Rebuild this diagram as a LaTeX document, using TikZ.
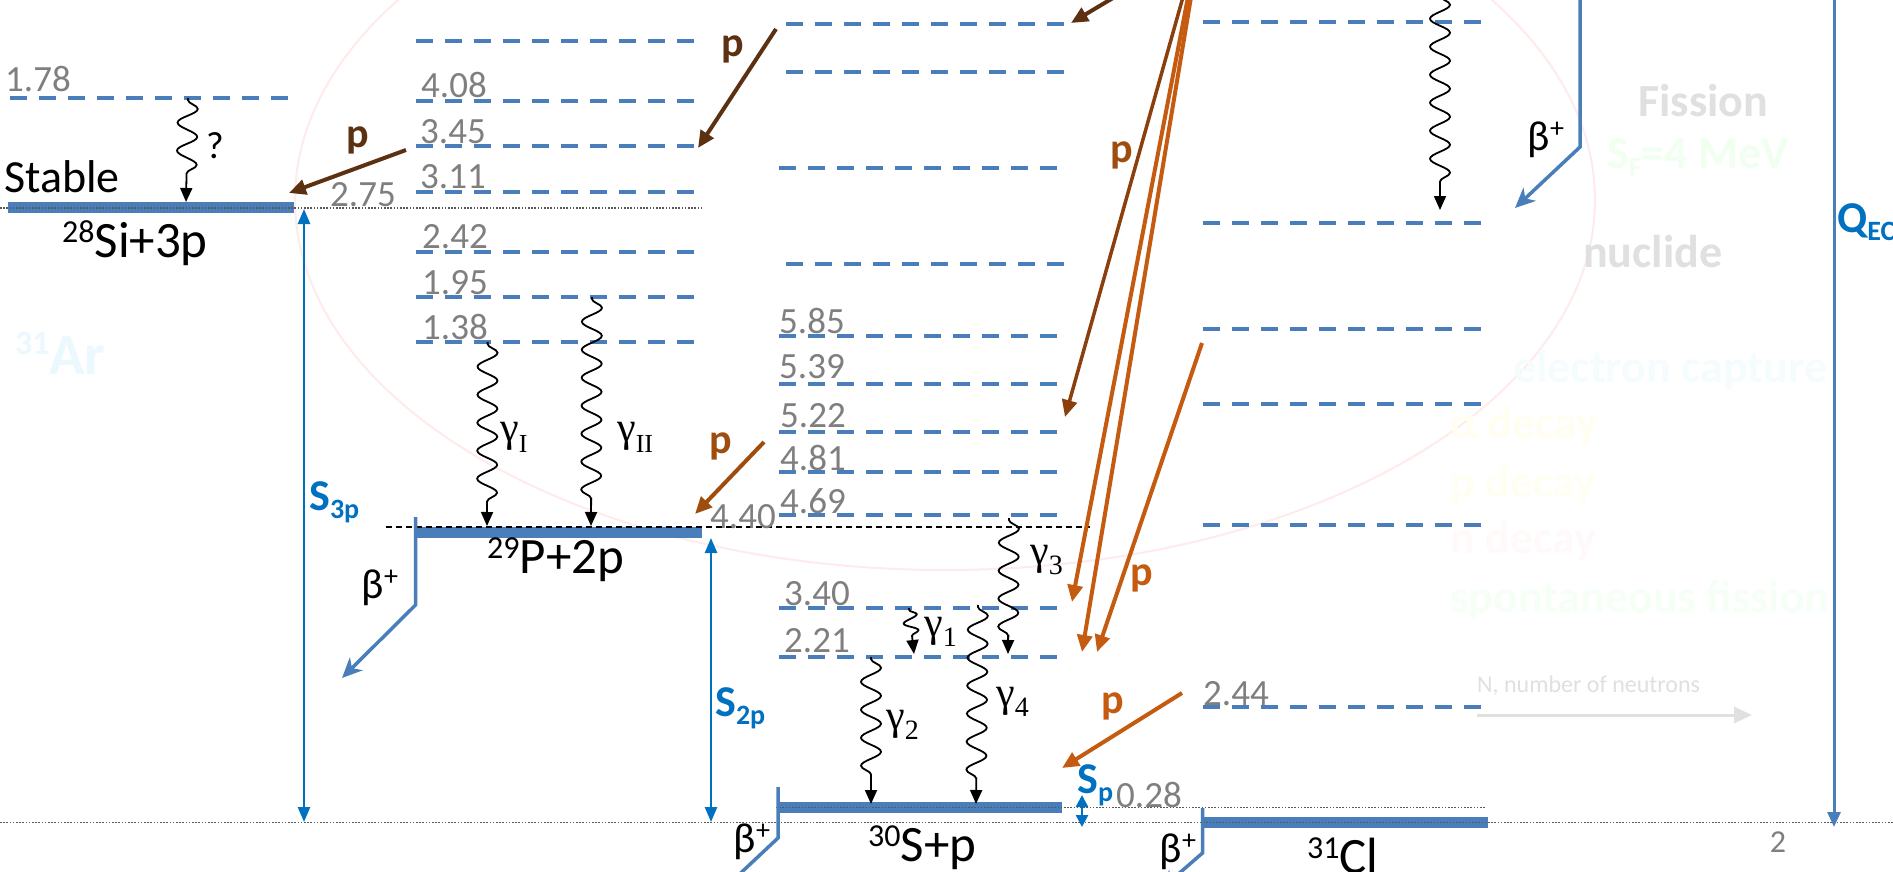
\documentclass[tikz,border=0pt]{standalone}
\usepackage{fontspec}
\setmainfont{Carlito}
\newfontfamily\tmsfont{Liberation Serif}
\usetikzlibrary{arrows.meta,decorations.pathmorphing}
\newcommand\fsz[1]{\fontsize{#1}{#1}\selectfont}
\definecolor{lvl}{HTML}{4A7EBB}
\definecolor{sblue}{HTML}{0070C0}
\definecolor{numgray}{HTML}{7F7F7F}
\definecolor{pdark}{HTML}{5C3111}
\definecolor{pmid}{HTML}{9E4D0E}
\definecolor{pbrown}{HTML}{8A3F0D}
\definecolor{porange}{HTML}{C55A11}
\definecolor{faintgray}{HTML}{E0E0E0}
\tikzset{
  lev/.style={draw=lvl, line width=4pt, dash pattern=on 17pt off 12pt},
  gsbar/.style={draw=lvl, line width=11pt},
  dotl/.style={draw=black!65, line width=1.1pt, dash pattern=on 1.6pt off 1.6pt},
  refl/.style={draw=black, line width=1.5pt, dash pattern=on 6pt off 4pt},
  num/.style={text=numgray, font=\fsz{37}, inner sep=0pt, anchor=base west},
  nuc/.style={font=\fsz{51}, inner sep=0pt, anchor=base west},
  gam/.style={draw=black, line width=1.8pt, decorate,
     decoration={snake, amplitude=10pt, segment length=28pt, pre length=2pt, post length=16pt},
     -{Triangle[length=14pt,width=12pt]}},
  glab/.style={font=\tmsfont\fsz{42}, inner sep=0pt, anchor=base west},
  parr/.style={line width=4pt, -{Triangle[length=17pt,width=15pt]}},
  plab/.style={font=\bfseries\fsz{42}, inner sep=0pt, anchor=base},
  betaarr/.style={draw=lvl, line width=3.5pt, -{Stealth[length=20pt,width=18pt,inset=6pt]}},
  blab/.style={font=\fsz{42}, inner sep=0pt},
  sarr/.style={draw=sblue, line width=2.5pt, {Triangle[length=15pt,width=12pt]}-{Triangle[length=15pt,width=12pt]}},
  slab/.style={text=sblue, font=\bfseries\fsz{44}, inner sep=0pt, anchor=base west},
  faint/.style={inner sep=0pt, anchor=base west, font=\bfseries\fsz{46}},
}
\begin{document}
\begin{tikzpicture}[x=1pt,y=-1pt]
\useasboundingbox (0,0) rectangle (1893,872);
\fill[white] (0,0) rectangle (1893,872);
\clip (0,0) rectangle (1893,872);

% ---------- faint background ----------
\draw[draw=red!8, line width=2pt] (945,200) ellipse [x radius=650, y radius=370];
\node[faint, text=cyan!8, font=\bfseries\fsz{58}] (ar31) at (15,374) {\raisebox{20pt}{\fsz{34}31}Ar};
\node[faint, text=faintgray] (fis) at (1638,117) {Fission};
\node[faint, text=green!6] (sfv) at (1607,168) {S\raisebox{-8pt}{\fsz{28}F}=4 MeV};
\node[faint, text=faintgray] (nucl) at (1583,267) {nuclide};
\node[faint, text=cyan!4] (ecap) at (1513,382) {electron capture};
\node[faint, text=yellow!6] (adec) at (1450,438) {α decay};
\node[faint, text=yellow!5] (pdec) at (1450,497) {p decay};
\node[faint, text=pink!9] (ndec) at (1450,553) {n decay};
\node[faint, text=green!4] (sfis) at (1450,612) {spontaneous fission};
\node[inner sep=0pt, anchor=base west, text=faintgray, font=\fsz{24}] (nnum) at (1477,692) {N, number of neutrons};
\coordinate (nna) at (1477,715); \coordinate (nnb) at (1752,715);
\draw[faintgray, line width=3pt, -{Triangle[length=18pt,width=16pt]}] (nna) -- (nnb);

% ---------- levels ----------
\draw[lev] (10,98) -- (289,98);
\draw[gsbar] (8,207.5) -- (294,207.5);
\foreach \yy in {41,101,146,192,252,297,342} \draw[lev] (415.5,\yy) -- (696,\yy);
\draw[gsbar] (415.5,532) -- (702,532);
\foreach \yy in {24,72,264} \draw[lev] (786,\yy) -- (1066,\yy);
\foreach \yy in {168,336,384,432,472,515,608,657} \draw[lev] (779,\yy) -- (1060,\yy);
\draw[gsbar] (776.5,807.5) -- (1062,807.5);
\foreach \yy in {22,223,329,404,525,707} \draw[lev] (1202.5,\yy) -- (1482,\yy);
\draw[gsbar] (1202.5,822.5) -- (1488,822.5);

% ---------- reference lines ----------
\draw[dotl] (0,208) -- (702,208);
\draw[dotl] (776,807.6) -- (1486,807.6);
\draw[dotl] (0,822.7) -- (1893,822.7);
\draw[refl] (386,527) -- (1090,527);

% ---------- level energies ----------
\node[num] (e178) at (5,92) {1.78};
\node[num] (e275) at (330,206) {2.75};
\node[num] (e408) at (421,98) {4.08};
\node[num] (e345) at (420,143) {3.45};
\node[num] (e311) at (420,188) {3.11};
\node[num] (e242) at (422,248) {2.42};
\node[num] (e195) at (422,294) {1.95};
\node[num] (e138) at (422,339) {1.38};
\node[num] (e585) at (779,333) {5.85};
\node[num] (e539) at (779,378) {5.39};
\node[num] (e522) at (780,427) {5.22};
\node[num] (e481) at (780,470) {4.81};
\node[num] (e469) at (780,513) {4.69};
\node[num] (e440) at (710,528) {4.40};
\node[num] (e340) at (784,605) {3.40};
\node[num] (e221) at (784,652) {2.21};
\node[num] (e028) at (1116,807) {0.28};
\node[num] (e244) at (1203,705) {2.44};
\node[num, font=\fsz{32}, anchor=base] (pg) at (1778,852) {2};

% ---------- nuclide labels ----------
\node[inner sep=0pt, anchor=base west, font=\fsz{46}] (stab) at (4,193) {Stable};
\node[nuc] (si28) at (62,257) {\raisebox{15pt}{\fsz{32}28}Si+3p};
\node[nuc] (p29) at (487,573) {\raisebox{15pt}{\fsz{32}29}P+2p};
\node[nuc] (s30) at (868,861) {\raisebox{15pt}{\fsz{32}30}S+p};
\node[nuc] (cl31) at (1307,873) {\raisebox{15pt}{\fsz{32}31}Cl};

% ---------- gamma transitions ----------
\coordinate (wqa) at (188,98);   \coordinate (wqb) at (186,202);
\coordinate (gIa) at (487.6,342); \coordinate (gIb) at (487,526);
\coordinate (gIIa) at (592,297); \coordinate (gIIb) at (591,526);
\coordinate (g1a) at (909,608);  \coordinate (g1b) at (914,654);
\coordinate (g2a) at (871,657);  \coordinate (g2b) at (871,804);
\coordinate (g3a) at (1009,518); \coordinate (g3b) at (1008,654);
\coordinate (g4a) at (978,605);  \coordinate (g4b) at (976,804);
\coordinate (wra) at (1440,-6);  \coordinate (wrb) at (1440,210);
\draw[gam] (wqa) -- (wqb);
\draw[gam] (gIa) -- (gIb);
\draw[gam] (gIIa) -- (gIIb);
\draw[gam, decoration={amplitude=7pt, segment length=16pt, post length=14pt}] (g1a) -- (g1b);
\draw[gam] (g2a) -- (g2b);
\draw[gam] (g3a) -- (g3b);
\draw[gam] (g4a) -- (g4b);
\draw[gam] (wra) -- (wrb);
\node[inner sep=0pt, anchor=base west, font=\fsz{38}] (qm) at (206,158) {?};
\node[glab] (lgI) at (500,441) {γ\raisebox{-11pt}{\fsz{26}I}};
\node[glab] (lgII) at (617,441) {γ\raisebox{-11pt}{\fsz{26}II}};
\node[glab] (lg1) at (924,636) {γ\raisebox{-10pt}{\fsz{28}1}};
\node[glab] (lg2) at (886,729) {γ\raisebox{-10pt}{\fsz{28}2}};
\node[glab] (lg3) at (1030,564) {γ\raisebox{-10pt}{\fsz{28}3}};
\node[glab] (lg4) at (996,706) {γ\raisebox{-10pt}{\fsz{28}4}};

% ---------- proton emissions ----------
\coordinate (p1a) at (406,150);  \coordinate (p1b) at (289,193);
\coordinate (p2a) at (776,29);   \coordinate (p2b) at (698,148);
\coordinate (p3a) at (1118,-5);  \coordinate (p3b) at (1071,23);
\coordinate (p4a) at (764,442);  \coordinate (p4b) at (695,514);
\coordinate (p5a) at (1183,-3);  \coordinate (p5b) at (1065,417);
\coordinate (o1a) at (1188,-3);  \coordinate (o1b) at (1072,602);
\coordinate (o2a) at (1191,-3);  \coordinate (o2b) at (1082,652);
\coordinate (o3a) at (1202,343); \coordinate (o3b) at (1097,652);
\coordinate (o4a) at (1182,693); \coordinate (o4b) at (1062,768);
\draw[parr, pdark] (p1a) -- (p1b);
\draw[parr, pdark] (p2a) -- (p2b);
\draw[parr, pdark] (p3a) -- (p3b);
\draw[parr, pmid] (p4a) -- (p4b);
\draw[parr, pbrown, line width=3.5pt] (p5a) -- (p5b);
\draw[parr, porange] (o1a) -- (o1b);
\draw[parr, porange] (o2a) -- (o2b);
\draw[parr, porange] (o3a) -- (o3b);
\draw[parr, porange] (o4a) -- (o4b);
\node[plab, text=pdark] (lp1) at (358,147) {p};
\node[plab, text=pdark] (lp2) at (733,57) {p};
\node[plab, text=pmid] (lp4) at (721,453) {p};
\node[plab, text=pmid] (lp5) at (1122,163) {p};
\node[plab, text=porange] (lp6) at (1142,585) {p};
\node[plab, text=porange] (lp7) at (1113,713) {p};

% ---------- beta decays ----------
\coordinate (bra) at (1580,-10); \coordinate (brb) at (1580,147); \coordinate (brc) at (1515,208);
\coordinate (bpa) at (415.5,517); \coordinate (bpb) at (415.5,605); \coordinate (bpc) at (342,678);
\coordinate (bsa) at (778,787); \coordinate (bsb) at (778,838); \coordinate (bsc) at (712,900);
\coordinate (bca) at (1202.5,808); \coordinate (bcb) at (1202.5,853); \coordinate (bcc) at (1160,890);
\draw[betaarr] (bra) -- (brb) -- (brc);
\draw[betaarr] (bpa) -- (bpb) -- (bpc);
\draw[betaarr] (bsa) -- (bsb) -- (bsc);
\draw[betaarr] (bca) -- (bcb) -- (bcc);
\node[blab] (lbr) at (1546,140) {β\raisebox{13pt}{\fsz{28}+}};
\node[blab] (lbp) at (380,588) {β\raisebox{13pt}{\fsz{28}+}};
\node[blab] (lbs) at (752,842) {β\raisebox{13pt}{\fsz{28}+}};
\node[blab] (lbc) at (1178,852) {β\raisebox{13pt}{\fsz{28}+}};

% ---------- separation energies ----------
\coordinate (s3a) at (304,209);  \coordinate (s3b) at (304,822);
\coordinate (s2a) at (711,538);  \coordinate (s2b) at (711,822);
\coordinate (s1a) at (1082,795); \coordinate (s1b) at (1082,827);
\coordinate (qa) at (1834,-10);  \coordinate (qb) at (1834,827);
\draw[sarr] (s3a) -- (s3b);
\draw[sarr] (s2a) -- (s2b);
\draw[draw=sblue, line width=2.5pt, {Triangle[length=12pt,width=12pt]}-{Triangle[length=12pt,width=12pt]}] (s1a) -- (s1b);
\draw[draw=lvl, line width=3pt, -{Triangle[length=15pt,width=13pt]}] (qa) -- (qb);
\node[slab] (ls3) at (309,510) {S\raisebox{-8pt}{\fsz{28}3p}};
\node[slab] (ls2) at (715,716) {S\raisebox{-8pt}{\fsz{28}2p}};
\node[slab] (ls1) at (1077,793) {S\raisebox{-8pt}{\fsz{28}p}};
\node[slab] (lq) at (1837,232) {Q\raisebox{-8pt}{\fsz{28}EC}};
\end{tikzpicture}
\end{document}
